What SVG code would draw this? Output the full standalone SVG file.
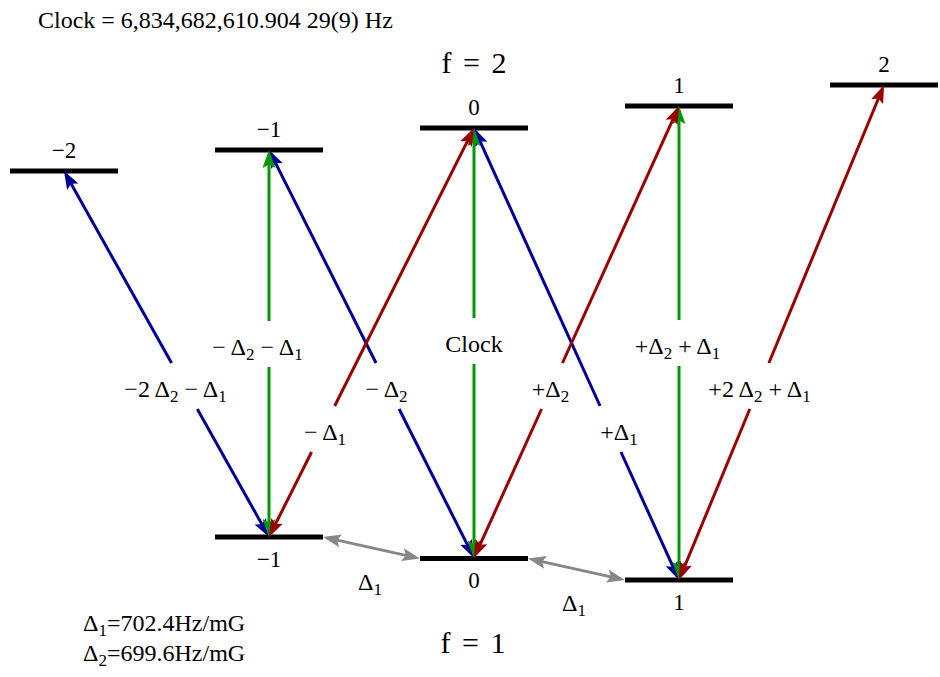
<svg xmlns="http://www.w3.org/2000/svg" width="940" height="677" viewBox="0 0 940 677">
<style>
text{font-family:"Liberation Serif","Times New Roman",serif;fill:#000;}
.t{font-size:24px;}
.lv{font-size:23px;text-anchor:middle;}
.lb{font-size:24px;text-anchor:middle;}
.big{font-size:30px;text-anchor:middle;word-spacing:4px;}
.lvl{stroke:#000;stroke-width:5;fill:none;}
.b{stroke:#000099;stroke-width:3;fill:none;marker-end:url(#mb);}
.g{stroke:#009900;stroke-width:3;fill:none;marker-end:url(#mg);}
.r{stroke:#990000;stroke-width:3;fill:none;marker-end:url(#mr);}
.gr{stroke:#878787;stroke-width:3;fill:none;marker-end:url(#mgr);marker-start:url(#mgrs);}
</style>
<defs>
<marker id="mb" markerUnits="userSpaceOnUse" viewBox="0 -7 18 14" markerWidth="18" markerHeight="14" refX="14" refY="0" orient="auto"><path d="M0,-6.5 L18,0 L0,6.5 L3.5,0 Z" fill="#000099"/></marker>
<marker id="mg" markerUnits="userSpaceOnUse" viewBox="0 -7 18 14" markerWidth="18" markerHeight="14" refX="14" refY="0" orient="auto"><path d="M0,-6.5 L18,0 L0,6.5 L3.5,0 Z" fill="#009900"/></marker>
<marker id="mr" markerUnits="userSpaceOnUse" viewBox="0 -7 18 14" markerWidth="18" markerHeight="14" refX="14" refY="0" orient="auto"><path d="M0,-6.5 L18,0 L0,6.5 L3.5,0 Z" fill="#990000"/></marker>
<marker id="mgr" markerUnits="userSpaceOnUse" viewBox="0 -7 18 14" markerWidth="18" markerHeight="14" refX="14" refY="0" orient="auto"><path d="M0,-6.5 L18,0 L0,6.5 L3.5,0 Z" fill="#878787"/></marker>
<marker id="mgrs" markerUnits="userSpaceOnUse" viewBox="0 -7 18 14" markerWidth="18" markerHeight="14" refX="14" refY="0" orient="auto-start-reverse"><path d="M0,-6.5 L18,0 L0,6.5 L3.5,0 Z" fill="#878787"/></marker>
</defs>

<text class="t" x="38" y="28">Clock = 6,834,682,610.904 29(9) Hz</text>
<text class="big" x="474" y="73">f = 2</text>
<text class="big" x="473" y="653">f = 1</text>
<text class="t" x="83" y="631">Δ<tspan font-size="17" dy="5">1</tspan><tspan dy="-5">=702.4Hz/mG</tspan></text>
<text class="t" x="83" y="661">Δ<tspan font-size="17" dy="5">2</tspan><tspan dy="-5">=699.6Hz/mG</tspan></text>

<g id="upper-m-2"><line class="lvl" x1="10" y1="171" x2="118" y2="171"/><text class="lv" x="64" y="158">−2</text></g>
<g id="upper-m-1"><line class="lvl" x1="215" y1="150" x2="323" y2="150"/><text class="lv" x="269" y="137">−1</text></g>
<g id="upper-m0"><line class="lvl" x1="420" y1="128" x2="528" y2="128"/><text class="lv" x="474" y="115">0</text></g>
<g id="upper-m1"><line class="lvl" x1="625" y1="106" x2="733" y2="106"/><text class="lv" x="679" y="93">1</text></g>
<g id="upper-m2"><line class="lvl" x1="830" y1="85" x2="938" y2="85"/><text class="lv" x="884" y="72">2</text></g>
<g id="lower-m-1"><line class="lvl" x1="215" y1="537" x2="323" y2="537"/><text class="lv" x="269" y="567">−1</text></g>
<g id="lower-m0"><line class="lvl" x1="420" y1="558.5" x2="528" y2="558.5"/><text class="lv" x="474" y="588">0</text></g>
<g id="lower-m1"><line class="lvl" x1="625" y1="580" x2="733" y2="580"/><text class="lv" x="679" y="610">1</text></g>

<g id="connectors">
<!-- blue -->
<line class="b" x1="171.54" y1="363" x2="65.95" y2="174.49"/>
<line class="b" x1="197.3" y1="409" x2="267.05" y2="533.51"/>
<line class="b" x1="376.02" y1="363" x2="270.8" y2="153.57"/>
<line class="b" x1="399.13" y1="409" x2="472.2" y2="554.43"/>
<line class="b" x1="600.08" y1="406" x2="475.65" y2="131.64"/>
<line class="b" x1="620.95" y1="452" x2="677.35" y2="576.36"/>
<!-- green -->
<line class="g" x1="269" y1="321" x2="269" y2="154"/>
<line class="g" x1="269" y1="367" x2="269" y2="533"/>
<line class="g" x1="474" y1="318" x2="474" y2="132"/>
<line class="g" x1="474" y1="364" x2="474" y2="554.5"/>
<line class="g" x1="679" y1="320" x2="679" y2="110"/>
<line class="g" x1="679" y1="366" x2="679" y2="576"/>
<!-- red -->
<line class="r" x1="334.66" y1="406" x2="472.21" y2="131.58"/>
<line class="r" x1="311.6" y1="452" x2="270.79" y2="533.42"/>
<line class="r" x1="562.44" y1="363" x2="677.35" y2="109.64"/>
<line class="r" x1="541.58" y1="409" x2="475.65" y2="554.36"/>
<line class="r" x1="768.87" y1="363" x2="882.47" y2="88.7"/>
<line class="r" x1="749.82" y1="409" x2="680.53" y2="576.3"/>
<!-- gray -->
<line class="gr" x1="326.9" y1="537.85" x2="416.1" y2="557.65"/>
<line class="gr" x1="531.9" y1="559.4" x2="621.1" y2="579.1"/>

<text class="lb" x="175.5" y="397">−2 Δ<tspan font-size="17" dy="5">2</tspan><tspan dy="-5"> − Δ</tspan><tspan font-size="17" dy="5">1</tspan></text>
<text class="lb" x="257.5" y="355">− Δ<tspan font-size="17" dy="5">2</tspan><tspan dy="-5"> − Δ</tspan><tspan font-size="17" dy="5">1</tspan></text>
<text class="lb" x="474" y="352">Clock</text>
<text class="lb" x="386.5" y="397">− Δ<tspan font-size="17" dy="5">2</tspan></text>
<text class="lb" x="325" y="440">− Δ<tspan font-size="17" dy="5">1</tspan></text>
<text class="lb" x="550.5" y="397">+Δ<tspan font-size="17" dy="5">2</tspan></text>
<text class="lb" x="619" y="440">+Δ<tspan font-size="17" dy="5">1</tspan></text>
<text class="lb" x="677.5" y="354">+Δ<tspan font-size="17" dy="5">2</tspan><tspan dy="-5"> + Δ</tspan><tspan font-size="17" dy="5">1</tspan></text>
<text class="lb" x="759.5" y="397">+2 Δ<tspan font-size="17" dy="5">2</tspan><tspan dy="-5"> + Δ</tspan><tspan font-size="17" dy="5">1</tspan></text>
<text class="lb" x="370" y="590">Δ<tspan font-size="17" dy="5">1</tspan></text>
<text class="lb" x="574" y="611">Δ<tspan font-size="17" dy="5">1</tspan></text>
</g>
</svg>
